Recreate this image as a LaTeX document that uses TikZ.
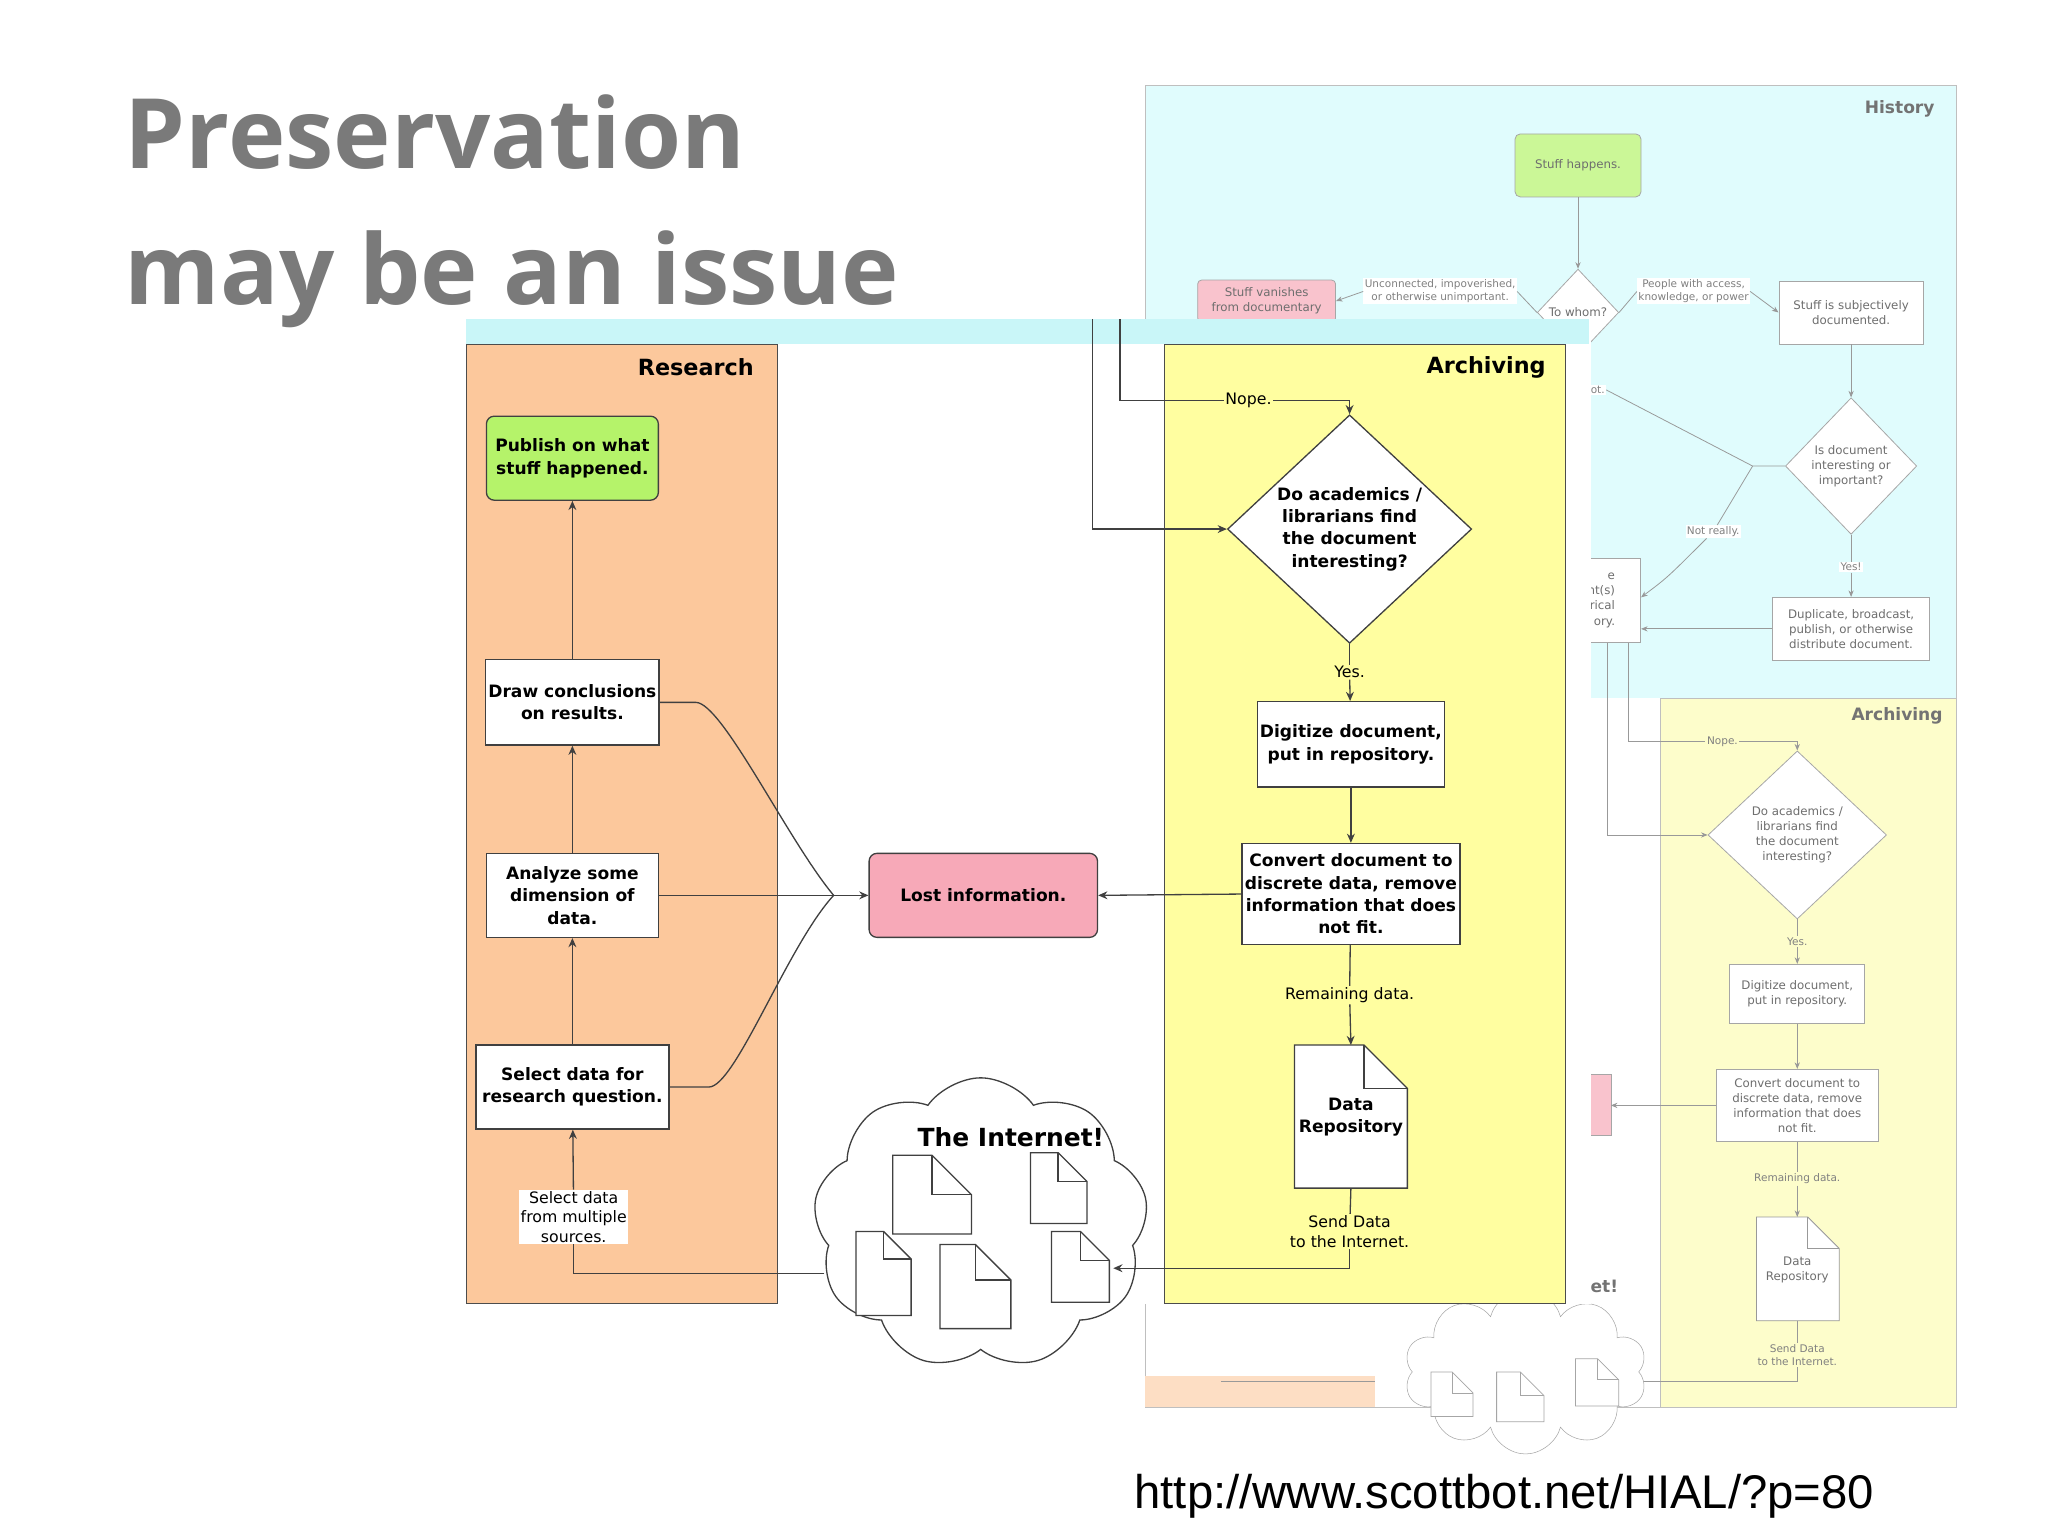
\documentclass[tikz,border=0pt]{standalone}
\usepackage{fontspec}
\setmainfont{DejaVu Sans}
\newfontfamily\titlefont{Open Sans}
\newfontfamily\urlfont{Liberation Sans}
\usetikzlibrary{shapes.geometric,shapes.symbols,arrows.meta}
\definecolor{rescol}{HTML}{FCC89C}
\definecolor{archcol}{HTML}{FFFEA0}
\definecolor{topcyan}{HTML}{C9F6F8}
\definecolor{histcol}{HTML}{E0FCFD}
\definecolor{archbg}{HTML}{FDFDCB}
\definecolor{greenbox}{HTML}{B5F36A}
\definecolor{pinkbox}{HTML}{F7A9B8}
\definecolor{fadetext}{HTML}{6E6E6E}
\tikzset{
  box/.style={draw=black!75, fill=white, line width=1pt, align=center, inner sep=2pt,
    font=\fontsize{13}{17}\selectfont\bfseries},
  dia/.style={diamond, draw=black!75, fill=white, line width=1pt, align=center, inner sep=0pt,
    font=\fontsize{13}{17}\selectfont\bfseries},
  lbl/.style={fill=white, align=center, inner sep=1pt, font=\fontsize{12}{15}\selectfont},
  arr/.style={-{Stealth[length=7pt,width=6pt]}, draw=black!75, line width=1pt},
  bbox/.style={draw=black!35, fill=white, line width=0.6pt, align=center, inner sep=1.5pt,
    text=fadetext, font=\fontsize{9}{11.5}\selectfont},
  bdia/.style={diamond, draw=black!35, fill=white, line width=0.6pt, align=center, inner sep=0pt,
    text=fadetext, font=\fontsize{9}{11.5}\selectfont},
  blbl/.style={fill=white, align=center, inner sep=1pt, text=black!50, font=\fontsize{8}{10}\selectfont},
  barr/.style={-{Stealth[length=5pt,width=4pt]}, draw=black!40, line width=0.6pt},
}
% document icon: x y w h fold
\newcommand\docic[6][]{%
  \draw[fill=white,#1] (#2,#3) -- ({#2+#4-#6},#3) -- ({#2+#4},{#3+#6}) -- ({#2+#4},{#3+#5}) -- (#2,{#3+#5}) -- cycle;
  \draw[#1] ({#2+#4-#6},#3) -- ({#2+#4-#6},{#3+#6}) -- ({#2+#4},{#3+#6});}
\begin{document}
\begin{tikzpicture}[x=1pt,y=-1pt]
\useasboundingbox[fill=white] (0,0) rectangle (1560,1170);

% ---------------- title and link
\node[anchor=base west, text=black!52, font=\titlefont\fontsize{74}{80}\selectfont\bfseries, inner sep=0] (t1) at (95,128) {Preservation};
\node[anchor=base west, text=black!52, font=\titlefont\fontsize{74}{80}\selectfont\bfseries, inner sep=0] (t2) at (95,232) {may be an issue};
\node[anchor=base west, font=\urlfont\fontsize{36}{38}\selectfont, inner sep=0] (url) at (864,1149) {http://www.scottbot.net/HIAL/?p=80};

% ---------------- background screenshot
\fill[histcol] (872,65) rectangle (1490,532);
\draw[black!25] (872,65) rectangle (1490,1072);
\fill[archbg] (1265,532) rectangle (1490,1072);
\draw[black!25] (1265,532) -- (1265,1072) (1265,532) -- (1490,532);
\fill[rescol!60] (872,1048) rectangle (1047,1072);
\node[text=black!55, font=\fontsize{13}{15}\selectfont\bfseries] (hist) at (1447,83) {History};
\node[text=black!55, font=\fontsize{13}{15}\selectfont\bfseries] (arch2) at (1445,545) {Archiving};

\node[bbox, fill=greenbox!70, rounded corners=4pt, minimum width=96, minimum height=48] (sh) at (1202,126) {Stuff happens.};
\node[bdia, minimum width=62, minimum height=66] (whom) at (1202,238) {};
\node[text=fadetext, font=\fontsize{9}{11}\selectfont, inner sep=0] (whomt) at (1202,238) {To whom?};
\node[bbox, fill=pinkbox!70, rounded corners=3pt, minimum width=105, minimum height=32, anchor=north west] (van) at (912,213) {Stuff vanishes\\from documentary};
\node[bbox, minimum width=110, minimum height=48] (subj) at (1410,238) {Stuff is subjectively\\documented.};
\node[bdia, minimum width=100, minimum height=104] (intr) at (1410,355) {};
\node[text=fadetext, font=\fontsize{9}{11.5}\selectfont, align=center] (intrt) at (1410,355) {Is document\\interesting or\\important?};
\node[bbox, minimum width=120, minimum height=48] (dup) at (1410,479) {Duplicate, broadcast,\\publish, or otherwise\\distribute document.};
\node[bbox, minimum width=60, minimum height=64, anchor=north east, align=right] (hm) at (1250,425) {e\\nt(s)\\rical\\ory.};
\node[blbl] (unc) at (1097,222) {Unconnected, impoverished,\\or otherwise unimportant.};
\node[blbl] (pwa) at (1290,222) {People with access,\\knowledge, or power};
\node[blbl] (notr) at (1305,405) {Not really.};
\node[blbl] (yes1) at (1410,432) {Yes!};
\node[blbl] (ot) at (1217,297) {ot.};
\draw[barr] (sh) -- (whom);
\draw[draw=black!40, line width=0.6pt] (whom.west) -- (unc.east);
\draw[barr] (unc.west) -- (van.east);
\draw[draw=black!40, line width=0.6pt] (whom.east) -- (pwa.west);
\draw[barr] (pwa.east) -- (subj.west);
\draw[barr] (subj) -- (intr);
\draw[barr] (intr) -- (yes1) -- (dup);
\draw[barr] (dup.west) -- (hm.east |- dup.west);
\coordinate (jn) at (1335,355);
\draw[draw=black!40, line width=0.6pt] (intr.west) -- (jn) -- (ot.east);
\draw[draw=black!40, line width=0.6pt] (jn) -- (notr);
\draw[barr] (notr) .. controls (1270,440) .. (hm.east |- 0,455);

\node[bdia, minimum width=136, minimum height=128] (acad2) at (1369,636) {};
\node[text=fadetext, font=\fontsize{9}{11.5}\selectfont, align=center] (acad2t) at (1369,636) {Do academics /\\librarians find\\the document\\interesting?};
\node[blbl, fill=archbg] (nope2) at (1312,565) {Nope.};
\node[blbl, fill=archbg] (yes2) at (1369,717) {Yes.};
\node[bbox, minimum width=103, minimum height=45] (dig2) at (1369,757) {Digitize document,\\put in repository.};
\node[bbox, minimum width=123, minimum height=55] (conv2) at (1369,842) {Convert document to\\discrete data, remove\\information that does\\not fit.};
\node[blbl, fill=archbg] (rem2) at (1369,898) {Remaining data.};
\node[blbl, fill=archbg] (send2) at (1369,1032) {Send Data\\to the Internet.};
\docic[draw=black!40, line width=0.6pt]{1338}{927}{63}{79}{24}
\node[text=fadetext, font=\fontsize{9}{11.5}\selectfont, align=center] (rep2) at (1369,967) {Data\\Repository};
\coordinate (rep2t) at (1369,927);
\coordinate (rep2b) at (1369,1006);
\coordinate (a2) at (1224,490);
\coordinate (b2) at (1240,490);
\draw[barr] (a2) |- (acad2.west);
\draw[draw=black!40, line width=0.6pt] (b2) |- (nope2.west);
\draw[barr] (nope2.east) -| (acad2.north);
\draw[barr] (acad2) -- (yes2) -- (dig2);
\draw[barr] (dig2) -- (conv2);
\draw[draw=black!40, line width=0.6pt] (conv2) -- (rem2);
\draw[barr] (rem2) -- (rep2t);
\draw[draw=black!40, line width=0.6pt] (rep2b) -- (send2);
\coordinate (cl2) at (1235,1052);
\draw[barr] (send2.south) |- (cl2);
\fill[pinkbox!70] (1212,818) rectangle (1227,865);
\draw[black!35] (1212,818) -| (1227,865) -- (1212,865);
\coordinate (pk2) at (1227,842);
\draw[barr] (conv2.west) -- (pk2);
\draw[draw=black!40, line width=0.6pt] (930,1052) -- (1047,1052);
\node[cloud, cloud puffs=10, draw=black!35, fill=white, minimum width=185, minimum height=125] (cld2) at (1162,1045) {};
\node[text=black!55, font=\fontsize{13}{15}\selectfont\bfseries] (et) at (1222,980) {et!};
\docic[draw=black!35, line width=0.6pt]{1090}{1045}{32}{34}{16}
\docic[draw=black!35, line width=0.6pt]{1140}{1045}{36}{38}{18}
\docic[draw=black!35, line width=0.6pt]{1200}{1035}{33}{36}{16}

% ---------------- foreground screenshot
\fill[white] (355,243) rectangle (1212,993);
\fill[topcyan] (355,243) rectangle (1210,262);
\draw[black!70, fill=rescol] (355,262) rectangle (592,993);
\draw[black!70, fill=archcol] (887,262) rectangle (1192,993);
\node[font=\fontsize{17}{20}\selectfont\bfseries] (res) at (530,280) {Research};
\node[font=\fontsize{17}{20}\selectfont\bfseries] (arc) at (1132,280) {Archiving};

\node[box, fill=greenbox, rounded corners=6pt, minimum width=131, minimum height=64] (pub) at (436,349) {Publish on what\\stuff happened.};
\node[box, minimum width=131, minimum height=65] (drw) at (436,535) {Draw conclusions\\on results.};
\node[box, minimum width=131, minimum height=64] (ana) at (436,682) {Analyze some\\dimension of\\data.};
\node[box, minimum width=147, minimum height=64] (sel) at (436,828) {Select data for\\research question.};
\node[lbl] (src) at (437,927) {Select data\\from multiple\\sources.};
\node[box, fill=pinkbox, rounded corners=6pt, minimum width=174, minimum height=64] (lost) at (749,682) {Lost information.};

\node[dia, minimum width=186, minimum height=174] (acad) at (1028,403) {};
\node[font=\fontsize{13}{17}\selectfont\bfseries, align=center] (acadt) at (1028,403) {Do academics /\\librarians find\\the document\\interesting?};
\node[lbl, fill=archcol] (nope) at (951,305) {Nope.};
\node[lbl, fill=archcol] (yes) at (1028,512) {Yes.};
\node[box, minimum width=142, minimum height=65] (dig) at (1029,567) {Digitize document,\\put in repository.};
\node[box, minimum width=166, minimum height=77] (conv) at (1029,681) {Convert document to\\discrete data, remove\\information that does\\not fit.};
\node[lbl, fill=archcol] (rem) at (1028,758) {Remaining data.};
\docic[draw=black!75, line width=1pt]{986}{796}{86}{109}{33}
\node[font=\fontsize{13}{17}\selectfont\bfseries, align=center] (rep) at (1029,851) {Data\\Repository};
\coordinate (rept) at (1029,796);
\coordinate (repb) at (1029,905);
\node[lbl, fill=archcol] (send) at (1028,938) {Send Data\\to the Internet.};

% connectors, research
\draw[arr] (drw) -- (pub);
\draw[arr] (ana) -- (drw);
\draw[arr] (sel) -- (ana);
\draw[arr] (src) -- (sel);
\coordinate (mrg) at (635,682);
\draw[black!75, line width=1pt] (drw.east) -- (530,535) .. controls (550,535) and (600,640) .. (mrg);
\draw[black!75, line width=1pt] (sel.east) -- (540,828) .. controls (560,828) and (600,720) .. (mrg);
\draw[black!75, line width=1pt] (ana.east) -- (mrg);
\draw[arr] (mrg) -- (lost.west);
\draw[arr] (conv.west) -- (lost.east);

% connectors, archiving
\coordinate (in1) at (832,243);
\coordinate (in2) at (853,243);
\draw[arr] (in1) |- (acad.west);
\draw[black!75, line width=1pt] (in2) |- (nope.west);
\draw[arr] (nope.east) -| (acad.north);
\draw[black!75, line width=1pt] (acad.south) -- (yes);
\draw[arr] (yes) -- (dig);
\draw[arr] (dig) -- (conv);
\draw[black!75, line width=1pt] (conv) -- (rem);
\draw[arr] (rem) -- (rept);
\draw[black!75, line width=1pt] (repb) -- (send);

% the internet
\node[cloud, cloud puffs=9, cloud puff arc=110, aspect=1.15, draw=black!75, fill=white, line width=1pt, minimum width=255, minimum height=222] (net) at (747,932) {};
\docic[draw=black!75, line width=1pt]{680}{880}{60}{60}{30}
\docic[draw=black!75, line width=1pt]{785}{878}{43}{54}{22}
\docic[draw=black!75, line width=1pt]{652}{938}{42}{64}{21}
\docic[draw=black!75, line width=1pt]{716}{948}{54}{64}{27}
\docic[draw=black!75, line width=1pt]{801}{938}{44}{54}{22}
\node[font=\fontsize{19}{22}\selectfont\bfseries] (nett) at (770,866) {The Internet!};
\coordinate (netin) at (848,966);
\coordinate (netout) at (628,970);
\draw[arr] (send.south) |- (netin);
\draw[black!75, line width=1pt] (netout) -| (src.south);
\end{tikzpicture}
\end{document}
